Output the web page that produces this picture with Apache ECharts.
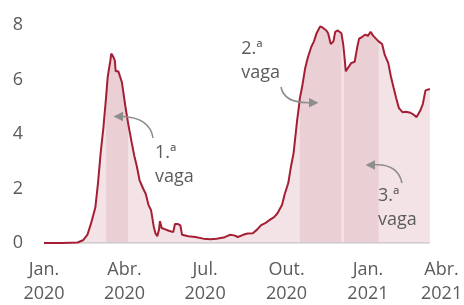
<!DOCTYPE html>
<html>
<head>
<meta charset="utf-8">
<script src="https://cdn.jsdelivr.net/npm/echarts@6/dist/echarts.min.js"></script>
<style>
html,body{margin:0;padding:0;background:#fff;}
#chart{width:464px;height:305px;}
</style>
</head>
<body>
<div id="chart"></div>
<script>
// ---- data ----
const dates = [
 '2020-01-01','2020-01-21','2020-02-08','2020-02-14','2020-02-19','2020-02-23','2020-02-28',
 '2020-03-02','2020-03-05','2020-03-08','2020-03-11','2020-03-13','2020-03-16','2020-03-17',
 '2020-03-19','2020-03-21','2020-03-22','2020-03-25','2020-03-29','2020-04-02','2020-04-05',
 '2020-04-09','2020-04-12','2020-04-15','2020-04-18','2020-04-22','2020-04-25','2020-04-28',
 '2020-05-01','2020-05-04','2020-05-06','2020-05-08','2020-05-10','2020-05-11','2020-05-13',
 '2020-05-17','2020-05-21','2020-05-26','2020-05-28','2020-05-31','2020-06-03','2020-06-05',
 '2020-06-12','2020-06-20','2020-06-29','2020-07-07','2020-07-14','2020-07-22','2020-07-29',
 '2020-08-03','2020-08-07','2020-08-13','2020-08-18','2020-08-24','2020-08-29','2020-09-02',
 '2020-09-08','2020-09-12','2020-09-17','2020-09-21','2020-09-26','2020-09-29','2020-10-03',
 '2020-10-06','2020-10-09','2020-10-11','2020-10-13','2020-10-15','2020-10-16','2020-10-19',
 '2020-10-22','2020-10-25','2020-10-29','2020-11-01','2020-11-04','2020-11-08','2020-11-11',
 '2020-11-15','2020-11-17','2020-11-20','2020-11-23','2020-11-25','2020-11-28','2020-12-02',
 '2020-12-04','2020-12-05','2020-12-07','2020-12-09','2020-12-13','2020-12-17','2020-12-20',
 '2020-12-22','2020-12-25','2020-12-29','2021-01-01','2021-01-04','2021-01-07','2021-01-10',
 '2021-01-13','2021-01-17','2021-01-20','2021-01-24','2021-01-27','2021-01-30','2021-02-02',
 '2021-02-05','2021-02-09','2021-02-13','2021-02-18','2021-02-22','2021-02-25','2021-03-01',
 '2021-03-04','2021-03-07','2021-03-09','2021-03-12'
];
const values = [
 0,0,0.02,0.1,0.3,0.7,1.3,
 2.2,3.3,4.2,5.3,6.1,6.7,6.95,
 6.85,6.7,6.3,6.3,5.9,5.0,4.4,
 3.7,3.2,2.8,2.3,2.0,1.8,1.4,
 1.2,0.6,0.35,0.25,0.5,0.8,0.55,
 0.5,0.45,0.4,0.7,0.7,0.65,0.3,
 0.25,0.22,0.16,0.14,0.16,0.2,0.3,
 0.28,0.22,0.3,0.35,0.36,0.5,0.65,
 0.75,0.85,0.95,1.1,1.4,1.8,2.2,
 2.8,3.3,3.9,4.5,5.0,5.3,5.8,
 6.4,6.8,7.2,7.4,7.7,7.95,7.9,
 7.8,7.7,7.3,7.4,7.75,7.8,7.7,
 7.3,7.0,6.3,6.35,6.6,6.65,7.2,
 7.5,7.55,7.65,7.6,7.75,7.6,7.5,
 7.4,7.3,6.9,6.6,6.1,5.7,5.3,
 4.95,4.8,4.82,4.78,4.7,4.62,4.85,
 5.1,5.6,5.65,5.65
];
// wave periods (darker bands)
const bandStarts = ['2020-03-11','2020-10-16','2020-12-05'];
const bandEnds   = ['2020-04-05','2020-12-02','2021-01-13'];
// x-axis tick labels
const tickDates  = ['2020-01-01','2020-04-01','2020-07-01','2020-10-01','2021-01-01','2021-04-01'];
const tickLabels = ['Jan.\n2020','Abr.\n2020','Jul.\n2020','Out.\n2020','Jan.\n2021','Abr.\n2021'];
const yTicks = [0,2,4,6,8];

// ---- helpers ----
const ORIGIN = Date.UTC(2020,0,1);
function dayOf(s){ const p=s.split('-').map(Number); return (Date.UTC(p[0],p[1]-1,p[2])-ORIGIN)/86400000; }
const pts = dates.map((d,i)=>[dayOf(d), values[i]]);
const tickDays = tickDates.map(dayOf);
const labelMap = {}; tickDays.forEach((d,i)=>labelMap[d]=tickLabels[i]);
const lastTick = tickDays[tickDays.length-1];

const RED = '#a41f33', LIGHT = '#f4e3e6', DARK = '#ead0d5', TXT = '#5b5b5b', ARROW = '#8e8e8e';
const FONT = 'Open Sans';

const bandSeries = bandStarts.map((s,i)=>{
  const a = dayOf(s), b = dayOf(bandEnds[i]);
  return {
    type:'line', name:'band'+i, data: pts.filter(p=>p[0]>=a && p[0]<=b),
    symbol:'none', silent:true, z:2,
    lineStyle:{width:0, opacity:0},
    areaStyle:{color:DARK, opacity:1}
  };
});

const chart = echarts.init(document.getElementById('chart'), null, {renderer:'canvas'});
const option = {
  animation:false,
  grid:{left:44, right:16.4, top:25, bottom:62, containLabel:false, outerBoundsMode:'none'},
  xAxis:{
    type:'value', min:0, max:lastTick,
    axisLine:{show:false}, axisTick:{show:false}, splitLine:{show:false},
    axisLabel:{
      customValues: tickDays,
      margin:15, hideOverlap:false,
      fontFamily:FONT, fontSize:18, color:TXT, lineHeight:24,
      formatter:(v)=>{
        const t = labelMap[v] || '';
        if (v===lastTick) return t.split('\n').map(l=>'{last|'+l+'}').join('\n');
        return t;
      },
      rich:{ last:{fontFamily:FONT, fontSize:18, color:TXT, lineHeight:24, padding:[0,12,0,0]} }
    }
  },
  yAxis:{
    type:'value', min:0, max:8, interval:2,
    axisLine:{show:false}, axisTick:{show:false}, splitLine:{show:false},
    axisLabel:{margin:21, fontFamily:FONT, fontSize:18, color:TXT,
      customValues: yTicks}
  },
  series:[
    { type:'line', name:'fill', data:pts, symbol:'none', silent:true, z:1,
      lineStyle:{width:0, opacity:0}, areaStyle:{color:LIGHT, opacity:1} },
    ...bandSeries,
    { type:'line', name:'base', data:[[pts[0][0],0],[pts[pts.length-1][0],0]], symbol:'none', silent:true, z:3,
      lineStyle:{color:'#c9c9c9', width:1.5} },
    { type:'line', name:'line', data:pts, symbol:'none', z:4,
      lineStyle:{color:RED, width:2}, lineJoin:'round' }
  ],
  graphic:[
    {type:'text', z:20, left:155, top:141, style:{text:'1.ª\nvaga', font:'18px "Open Sans"', fill:TXT, lineHeight:24}},
    {type:'text', z:20, right:184, top:37, style:{text:'2.ª\nvaga', font:'18px "Open Sans"', fill:TXT, lineHeight:24, align:'right'}},
    {type:'text', z:20, left:378, top:184, style:{text:'3.ª\nvaga', font:'18px "Open Sans"', fill:TXT, lineHeight:24}},
    {type:'bezierCurve', shape:{x1:153,y1:138,cpx1:150,cpy1:118,x2:123,y2:116.5}, style:{stroke:ARROW, lineWidth:1.6, fill:null}, z:10},
    {type:'polygon', shape:{points:[[113.5,116.5],[123,111.8],[123,121.2]]}, style:{fill:ARROW}, z:10},
    {type:'bezierCurve', shape:{x1:281,y1:87,cpx1:284,cpy1:103,x2:309,y2:102.7}, style:{stroke:ARROW, lineWidth:1.6, fill:null}, z:10},
    {type:'polygon', shape:{points:[[318.5,102.7],[309,98],[309,107.4]]}, style:{fill:ARROW}, z:10},
    {type:'bezierCurve', shape:{x1:402,y1:183,cpx1:398,cpy1:164,x2:375,y2:164.8}, style:{stroke:ARROW, lineWidth:1.6, fill:null}, z:10},
    {type:'polygon', shape:{points:[[365.5,165],[375,160.3],[375,169.7]]}, style:{fill:ARROW}, z:10}
  ]
};
chart.setOption(option);
</script>
</body>
</html>
